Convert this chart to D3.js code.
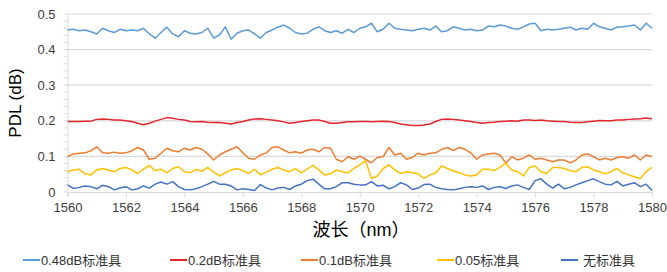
<!DOCTYPE html>
<html>
<head>
<meta charset="utf-8">
<script src="https://cdn.jsdelivr.net/npm/d3@7"></script>
<style>
  body { margin: 0; background: #fff; }
  text { font-family: "Liberation Sans", Arial, "Noto Sans CJK SC", sans-serif; }
</style>
</head>
<body>
<div id="chart"></div>
<script>
// wavelength axis: 1560 .. 1580 nm, one reading every 0.2 nm
var wlStart = 1560, wlStep = 0.2;
var xTicks = [1560, 1562, 1564, 1566, 1568, 1570, 1572, 1574, 1576, 1578, 1580];
var yTicks = [0, 0.1, 0.2, 0.3, 0.4, 0.5];
var seriesNames = ["0.48dB标准具", "0.2dB标准具", "0.1dB标准具", "0.05标准具", "无标准具"];
var seriesColors = ["#5b9bd5", "#e3262b", "#ed7d31", "#ffc000", "#4472c4"];

var pdl048 = [.455,.457,.453,.455,.450,.444,.460,.453,.448,.457,.453,.455,.453,.460,.444,.432,.448,.463,.444,.436,
  .453,.446,.444,.448,.460,.432,.441,.464,.429,.446,.453,.455,.444,.432,.448,.455,.463,.469,.460,.448,
  .444,.446,.457,.464,.453,.448,.453,.446,.457,.448,.460,
  .464,.474,.450,.457,.474,.460,.457,.455,.453,.457,.460,.455,.466,.450,.453,.464,.460,.455,.457,.453,
  .455,.466,.464,.469,.466,.460,.457,.464,.472,.474,.453,.457,.455,.457,.460,.463,.455,.460,.457,.474,
  .464,.460,.455,.463,.464,.466,.469,.455,.474,.460];

var pdl02 = [.198,.198,.198,.199,.199,.204,.205,.204,.202,.202,.200,.198,.193,.189,.193,.199,.204,.209,.207,.204,
  .202,.198,.197,.198,.196,.195,.195,.193,.191,.195,.198,.202,.205,.206,.204,.202,.200,.197,.193,.195,
  .198,.200,.202,.202,.198,.193,.193,.195,.197,.197,.198,
  .198,.197,.198,.199,.198,.195,.191,.189,.187,.187,.188,.191,.198,.204,.205,.204,.202,.200,.198,.195,
  .193,.195,.196,.198,.199,.200,.199,.202,.202,.201,.202,.200,.199,.198,.198,.196,.195,.195,.197,.199,
  .201,.200,.200,.202,.202,.204,.205,.206,.208,.206];

var pdl01 = [.099,.107,.109,.110,.116,.127,.110,.109,.112,.109,.110,.116,.125,.118,.092,.095,.109,.123,.116,.113,
  .123,.118,.125,.120,.107,.090,.104,.113,.120,.127,.110,.095,.092,.104,.110,.125,.127,.118,.110,.113,
  .109,.118,.120,.113,.125,.123,.092,.085,.099,.092,.101,
  .092,.082,.097,.099,.125,.104,.109,.092,.097,.109,.104,.109,.110,.120,.125,.116,.125,.120,.110,.092,
  .104,.107,.109,.104,.081,.099,.090,.095,.104,.092,.095,.090,.085,.090,.090,.082,.090,.104,.107,.099,
  .090,.095,.090,.097,.099,.095,.104,.090,.104,.099];

var pdl005 = [.057,.062,.064,.051,.048,.062,.066,.062,.057,.066,.069,.062,.052,.064,.075,.060,.064,.054,.066,.071,
  .057,.054,.064,.058,.069,.056,.045,.054,.062,.066,.060,.052,.064,.048,.056,.064,.069,.062,.057,.066,
  .054,.064,.075,.062,.048,.051,.062,.057,.054,.066,.076,
  .088,.038,.045,.066,.076,.062,.052,.057,.054,.051,.038,.048,.054,.073,.066,.059,.054,.048,.045,.048,
  .064,.064,.060,.069,.081,.062,.057,.045,.069,.073,.057,.052,.069,.069,.066,.060,.057,.069,.071,.062,
  .057,.051,.057,.066,.054,.048,.043,.038,.057,.069];

var pdlNone = [.020,.010,.013,.017,.015,.009,.019,.015,.006,.011,.015,.006,.009,.017,.011,.022,.028,.022,.029,.015,
  .007,.006,.009,.015,.022,.030,.022,.022,.017,.006,.009,.007,.004,.021,.011,.006,.011,.013,.007,.017,
  .022,.032,.036,.022,.009,.009,.015,.026,.026,.022,.020,
  .020,.029,.017,.019,.009,.015,.026,.020,.007,.011,.021,.022,.013,.009,.007,.006,.009,.013,.015,.013,
  .017,.007,.013,.015,.010,.017,.020,.013,.007,.032,.037,.022,.011,.022,.009,.013,.020,.026,.032,.037,
  .029,.022,.020,.030,.017,.022,.026,.015,.022,.004];

var allSeries = [pdl048, pdl02, pdl01, pdl005, pdlNone];

var svgWidth = 667, svgHeight = 272;
var margin = { top: 14, right: 15, bottom: 80, left: 67.5 };
var width = 652 - margin.left;
var height = 192 - margin.top;

var svg = d3.select("#chart").append("svg")
  .attr("width", svgWidth)
  .attr("height", svgHeight);

var chartGroup = svg.append("g")
  .attr("transform", `translate(${margin.left}, ${margin.top})`);

var xScale = d3.scaleLinear().domain([1560, 1580]).range([0, width]);
var yScale = d3.scaleLinear().domain([0, 0.5]).range([height, 0]);

// horizontal gridlines
chartGroup.append("g")
  .selectAll("line")
  .data(yTicks.filter(d => d > 0))
  .join("line")
  .attr("x1", 0).attr("x2", width)
  .attr("y1", d => yScale(d)).attr("y2", d => yScale(d))
  .attr("stroke", "#d9d9d9")
  .attr("stroke-width", 1.2);

// y axis with minor ticks
var yAxis = d3.axisLeft(yScale)
  .tickValues(yTicks)
  .tickFormat(d => d === 0 ? "0" : d3.format(".1f")(d))
  .tickSize(0)
  .tickPadding(12);
var yAxisG = chartGroup.append("g").call(yAxis);
yAxisG.select(".domain").attr("stroke", "#d9d9d9");
yAxisG.selectAll("text").attr("font-size", 13).attr("fill", "#404040");
chartGroup.append("g")
  .selectAll("line")
  .data(d3.range(0, 0.5001, 0.02))
  .join("line")
  .attr("x1", -4).attr("x2", 0)
  .attr("y1", d => yScale(d)).attr("y2", d => yScale(d))
  .attr("stroke", "#d9d9d9");

// x axis
var xAxis = d3.axisBottom(xScale)
  .tickValues(xTicks)
  .tickFormat(d3.format("d"))
  .tickSize(5)
  .tickPadding(6);
var xAxisG = chartGroup.append("g")
  .attr("transform", `translate(0, ${height})`)
  .call(xAxis);
xAxisG.select(".domain").attr("stroke", "#d9d9d9").attr("stroke-width", 1.2);
xAxisG.selectAll(".tick line").attr("stroke", "#d9d9d9");
xAxisG.selectAll("text").attr("font-size", 13).attr("fill", "#404040");

// lines
var line = d3.line()
  .x((d, i) => xScale(wlStart + i * wlStep))
  .y(d => yScale(d));

chartGroup.selectAll("path.series")
  .data(allSeries)
  .join("path")
  .attr("class", "series")
  .attr("d", d => line(d))
  .attr("fill", "none")
  .attr("stroke", (d, i) => seriesColors[i])
  .attr("stroke-width", 1.5)
  .attr("stroke-linejoin", "round");

// axis titles
svg.append("text")
  .attr("transform", "translate(21, 103) rotate(-90)")
  .attr("text-anchor", "middle")
  .attr("font-size", 17)
  .attr("fill", "#000")
  .text("PDL (dB)");
svg.append("text")
  .attr("x", 361)
  .attr("y", 236)
  .attr("text-anchor", "middle")
  .attr("font-size", 18)
  .attr("fill", "#000")
  .text("波长（nm）");

// legend
var legendX = [23, 170, 301, 437, 561];
var legend = svg.append("g")
  .selectAll("g")
  .data(seriesNames)
  .join("g")
  .attr("transform", (d, i) => `translate(${legendX[i]}, 260)`);
legend.append("line")
  .attr("x1", 0).attr("x2", 17)
  .attr("stroke", (d, i) => seriesColors[i])
  .attr("stroke-width", 2);
legend.append("text")
  .attr("x", (d, i) => i === 4 ? 22 : 18)
  .attr("y", 5)
  .attr("font-size", 13)
  .attr("fill", "#333")
  .text(d => d);
</script>
</body>
</html>
